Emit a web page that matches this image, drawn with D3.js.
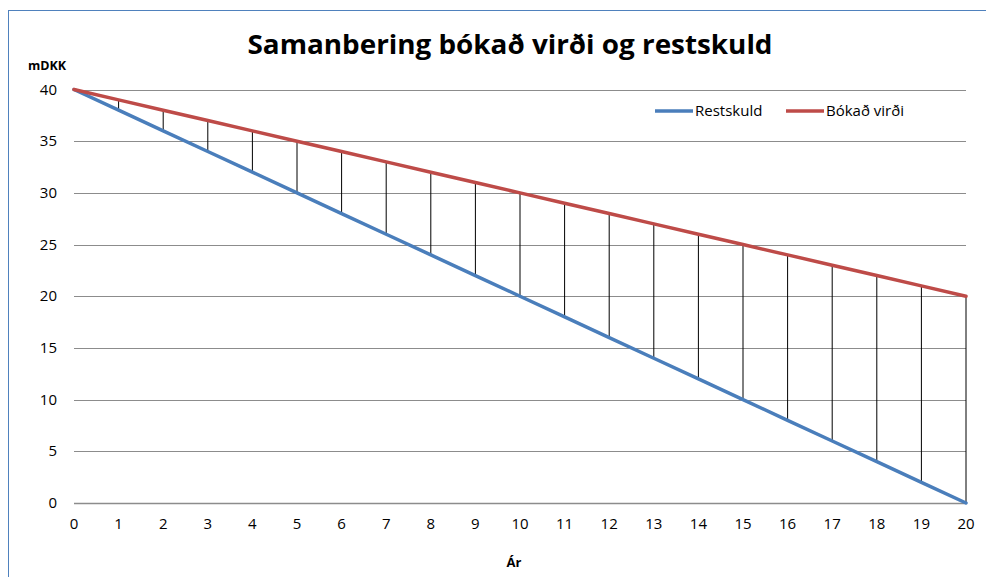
<!DOCTYPE html>
<html>
<head>
<meta charset="utf-8">
<script src="https://cdn.jsdelivr.net/npm/d3@7"></script>
<style>
  body { margin: 0; background: #fff; }
  text { font-family: "Open Sans", Lato, sans-serif; fill: #000; }
</style>
</head>
<body>
<svg id="chart" width="986" height="577"></svg>
<script>
var years = [0, 1, 2, 3, 4, 5, 6, 7, 8, 9, 10, 11, 12, 13, 14, 15, 16, 17, 18, 19, 20];
var restskuld = [40, 38, 36, 34, 32, 30, 28, 26, 24, 22, 20, 18, 16, 14, 12, 10, 8, 6, 4, 2, 0];
var bokadVirdi = [40, 39, 38, 37, 36, 35, 34, 33, 32, 31, 30, 29, 28, 27, 26, 25, 24, 23, 22, 21, 20];
var yTicks = [0, 5, 10, 15, 20, 25, 30, 35, 40];
var seriesNames = ["Restskuld", "Bókað virði"];
var seriesColors = ["#4a7ebb", "#be4b48"];

var svg = d3.select("#chart");

// chart border (cut off at right / bottom)
svg.append("rect")
   .attr("x", 8.5).attr("y", 10.5)
   .attr("width", 990).attr("height", 600)
   .attr("fill", "none")
   .attr("stroke", "#4f81bd")
   .attr("stroke-width", 1);

var x = d3.scaleLinear().domain([0, 20]).range([74, 966]);
var y = d3.scaleLinear().domain([0, 40]).range([503, 89.5]);

// gridlines
svg.selectAll(".grid")
   .data(yTicks)
   .enter()
   .append("line")
   .attr("class", "grid")
   .attr("x1", x(0)).attr("x2", x(20))
   .attr("y1", function(d) { return Math.round(y(d)) + 0.5; })
   .attr("y2", function(d) { return Math.round(y(d)) + 0.5; })
   .attr("stroke", "#8c8c8c")
   .attr("stroke-width", function(d) { return d === 0 ? 1.5 : 1; });

// y tick labels
svg.selectAll(".ylab")
   .data(yTicks)
   .enter()
   .append("text")
   .attr("x", 57)
   .attr("y", function(d) { return y(d) + 5; })
   .attr("text-anchor", "end")
   .style("font-size", "15px")
   .text(function(d) { return d; });

// x tick labels
svg.selectAll(".xlab")
   .data(years)
   .enter()
   .append("text")
   .attr("x", function(d) { return x(d); })
   .attr("y", 529)
   .attr("text-anchor", "middle")
   .style("font-size", "15px")
   .text(function(d) { return d; });

// drop lines between the two series
svg.selectAll(".drop")
   .data(years.slice(1))
   .enter()
   .append("line")
   .attr("x1", function(d) { return x(d); })
   .attr("x2", function(d) { return x(d); })
   .attr("y1", function(d) { return y(restskuld[d]); })
   .attr("y2", function(d) { return y(bokadVirdi[d]); })
   .attr("stroke", "#000")
   .attr("stroke-width", 1);

var line = d3.line()
  .x(function(d, i) { return x(years[i]); })
  .y(function(d) { return y(d); });

[restskuld, bokadVirdi].forEach(function(s, i) {
  svg.append("path")
     .datum(s)
     .attr("d", line)
     .attr("fill", "none")
     .attr("stroke", seriesColors[i])
     .attr("stroke-width", 3.5)
     .attr("stroke-linecap", "round");
});

// legend
var legendX = [655, 786];
seriesNames.forEach(function(name, i) {
  svg.append("line")
     .attr("x1", legendX[i]).attr("x2", legendX[i] + 38)
     .attr("y1", 111).attr("y2", 111)
     .attr("stroke", seriesColors[i])
     .attr("stroke-width", 3.5);
  svg.append("text")
     .attr("x", legendX[i] + 40)
     .attr("y", 116)
     .style("font-size", "15px")
     .text(name);
});

// titles
svg.append("text")
   .attr("x", 510).attr("y", 54)
   .attr("text-anchor", "middle")
   .style("font-size", "27px")
   .style("font-weight", "bold")
   .attr("textLength", 525)
   .attr("lengthAdjust", "spacingAndGlyphs")
   .text("Samanbering bókað virði og restskuld");

svg.append("text")
   .attr("x", 28).attr("y", 70)
   .style("font-size", "12.5px")
   .style("font-weight", "bold")
   .text("mDKK");

svg.append("text")
   .attr("x", 514).attr("y", 567)
   .attr("text-anchor", "middle")
   .style("font-size", "13px")
   .style("font-weight", "bold")
   .text("Ár");
</script>
</body>
</html>
